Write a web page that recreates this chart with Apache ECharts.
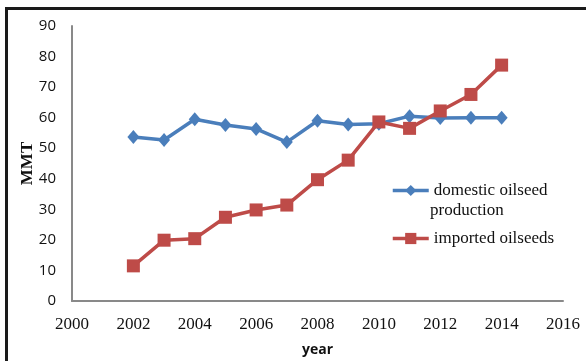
<!DOCTYPE html>
<html>
<head>
<meta charset="utf-8">
<script src="https://cdn.jsdelivr.net/npm/echarts@6/dist/echarts.min.js"></script>
<style>
  html, body { margin: 0; padding: 0; background: #fff; }
  .frame {
    position: absolute; left: 5px; top: 7px; right: 0; bottom: 0;
    border-left: 3px solid #1a1a1a; border-top: 3px solid #1a1a1a;
  }
  #chart { position: absolute; left: 0; top: 0; width: 586px; height: 361px; }
</style>
</head>
<body>
<div class="frame"></div>
<div id="chart"></div>
<script>
const years = [2002, 2003, 2004, 2005, 2006, 2007, 2008, 2009, 2010, 2011, 2012, 2013, 2014];
const domestic = [53.7, 52.7, 59.5, 57.6, 56.3, 52.0, 59.0, 57.8, 58.0, 60.5, 59.9, 60.0, 60.0];
const imported = [11.5, 19.9, 20.4, 27.4, 29.8, 31.4, 39.7, 46.1, 58.6, 56.5, 62.2, 67.6, 77.2];
const seriesNames = ['domestic oilseed production', 'imported oilseeds'];

const chart = echarts.init(document.getElementById('chart'));

function pairs(vals) {
  return years.map((y, i) => [y, vals[i]]);
}

const axisColor = '#898989';
const legendText = { fontFamily: 'Liberation Serif', fontSize: 17, color: '#111' };

chart.setOption({
  animation: false,
  grid: { left: 72, right: 23, top: 26, bottom: 60, outerBoundsMode: 'none', containLabel: false },
  legend: [
    {
      data: [seriesNames[0]],
      left: 391, top: 182, padding: 0,
      itemWidth: 36, itemHeight: 14, itemGap: 3,
      lineStyle: { width: 3.5 },
      formatter: () => 'domestic oilseed',
      textStyle: legendText
    },
    {
      data: [seriesNames[1]],
      left: 391, top: 230, padding: 0,
      itemWidth: 36, itemHeight: 14, itemGap: 3,
      lineStyle: { width: 3.5 },
      textStyle: legendText
    }
  ],
  graphic: [
    {
      type: 'text', left: 430, top: 202,
      style: { text: 'production', font: '17px "Liberation Serif"', fill: '#111' }
    }
  ],
  xAxis: {
    type: 'value',
    min: 2000, max: 2016, interval: 2,
    name: 'year',
    nameLocation: 'middle',
    nameGap: 42,
    nameTextStyle: { fontFamily: 'Open Sans', fontWeight: 'bold', fontSize: 14, color: '#111' },
    axisLine: { show: true, lineStyle: { color: axisColor, width: 2 } },
    axisTick: { show: false },
    splitLine: { show: false },
    axisLabel: {
      margin: 15, fontFamily: 'Liberation Serif', fontSize: 17, color: '#111',
      formatter: v => String(v)
    }
  },
  yAxis: {
    type: 'value',
    min: 0, max: 90, interval: 10,
    name: 'MMT',
    nameLocation: 'middle',
    nameGap: 36,
    nameMoveOverlap: false,
    nameTextStyle: { fontFamily: 'Liberation Serif', fontWeight: 'bold', fontSize: 17, color: '#111' },
    axisLine: { show: true, lineStyle: { color: axisColor, width: 2 } },
    axisTick: { show: false },
    splitLine: { show: false },
    axisLabel: { margin: 16, fontFamily: 'Open Sans', fontSize: 15, color: '#111' }
  },
  series: [
    {
      name: seriesNames[0],
      type: 'line',
      data: pairs(domestic),
      symbol: 'diamond',
      symbolSize: [12, 14],
      lineStyle: { color: '#4a7ebb', width: 3.5 },
      itemStyle: { color: '#4a7ebb' },
      z: 2
    },
    {
      name: seriesNames[1],
      type: 'line',
      data: pairs(imported),
      symbol: 'rect',
      symbolSize: 13,
      lineStyle: { color: '#be4b48', width: 3.5 },
      itemStyle: { color: '#be4b48' },
      z: 3
    }
  ]
});
</script>
</body>
</html>
